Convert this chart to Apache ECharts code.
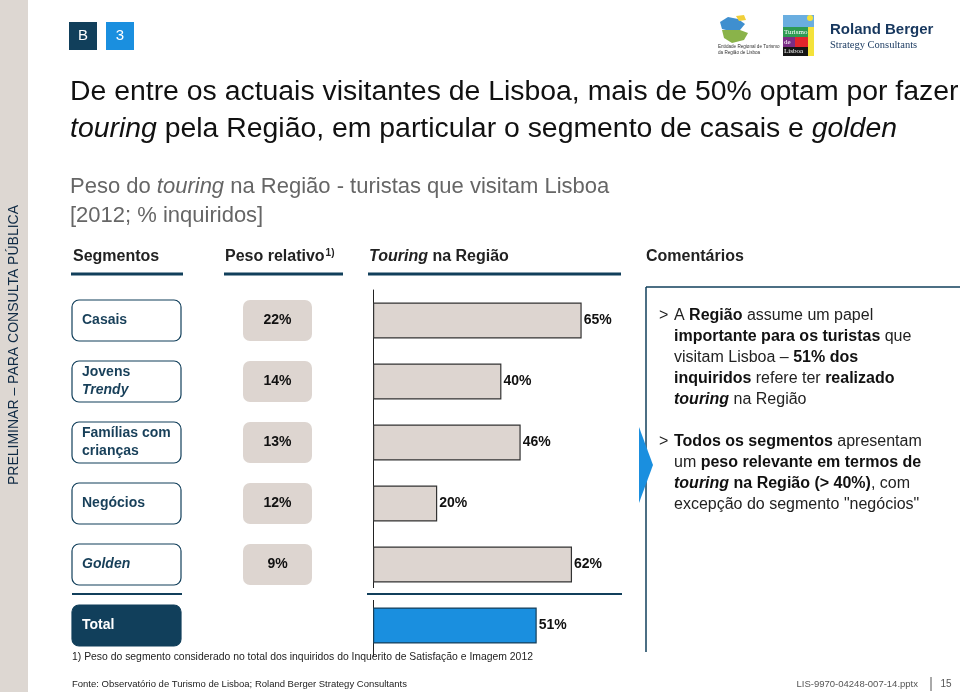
<!DOCTYPE html>
<html><head><meta charset="utf-8">
<script src="https://cdn.jsdelivr.net/npm/echarts@6/dist/echarts.min.js"></script>
<style>html,body{margin:0;padding:0;background:#fff}#c{width:960px;height:692px}</style>
</head><body><div id="c"></div>
<script>
// ---- data ----
const categories = ['Casais', 'Jovens Trendy', 'Famílias com crianças', 'Negócios', 'Golden', 'Total'];
const segmentLabels = ['{s|Casais}', '{s|Jovens}\n{si|Trendy}', '{s|Famílias com}\n{s|crianças}', '{s|Negócios}', '{si|Golden}', '{s|Total}'];
const pesoRelativo = [22, 14, 13, 12, 9, null];
const touringNaRegiao = [65, 40, 46, 20, 62, 51];

const NAVY = '#113f5b';
const BLUE = '#1a8fdf';
const BEIGE = '#ddd5d0';
const FF = '"Liberation Sans", Arial, sans-serif';

const chart = echarts.init(document.getElementById('c'), null, {renderer: 'canvas'});

const gridBase = {top: 290, height: 366};
const richSeg = (color) => ({
  s: {fontFamily: FF, fontSize: 14, fontWeight: 'bold', fill: color, color: color, lineHeight: 18},
  si: {fontFamily: FF, fontSize: 14, fontWeight: 'bold', fontStyle: 'italic', fill: color, color: color, lineHeight: 18}
});

const commentRich = {
  r: {fontFamily: FF, fontSize: 16, fill: '#222', color: '#222', lineHeight: 20.8},
  b: {fontFamily: FF, fontSize: 16, fontWeight: 'bold', fill: '#111', color: '#111', lineHeight: 20.8},
  bi: {fontFamily: FF, fontSize: 16, fontWeight: 'bold', fontStyle: 'italic', fill: '#111', color: '#111', lineHeight: 20.8}
};

function txt(x, y, text, opts) {
  return {type: 'text', x: x, y: y, silent: true, style: Object.assign({text: text, fontFamily: FF, fill: '#222', verticalAlign: 'middle', align: 'left'}, opts || {})};
}
function line(x1, y1, x2, y2, w, color, z) {
  return {type: 'line', silent: true, z: z || 10, shape: {x1: x1, y1: y1, x2: x2, y2: y2}, style: {stroke: color || NAVY, lineWidth: w || 1}};
}

const graphics = [
  // left strip
  {type: 'rect', silent: true, shape: {x: 0, y: 0, width: 28, height: 692}, style: {fill: '#ddd7d2'}},
  {type: 'text', silent: true, x: 14, y: 345, rotation: Math.PI / 2,
    style: {text: 'PRELIMINAR – PARA CONSULTA PÚBLICA', fontFamily: FF, fontSize: 14, fill: '#0f2a44', align: 'center', verticalAlign: 'middle'}},
  // B / 3 boxes
  {type: 'rect', silent: true, shape: {x: 69, y: 22, width: 28, height: 28}, style: {fill: NAVY}},
  {type: 'rect', silent: true, shape: {x: 106, y: 22, width: 28, height: 28}, style: {fill: BLUE}},
  txt(83, 36, 'B', {fill: '#fff', fontSize: 15, align: 'center'}),
  txt(120, 36, '3', {fill: '#fff', fontSize: 15, align: 'center'}),
  // title
  txt(70, 92, 'De entre os actuais visitantes de Lisboa, mais de 50% optam por fazer', {fontSize: 28.4, fill: '#111'}),
  txt(70, 129, '{i|touring} pela Região, em particular o segmento de casais e {i|golden}', {fontSize: 28.4, fill: '#111',
    rich: {i: {fontFamily: FF, fontSize: 28.4, fontStyle: 'italic', fill: '#111', color: '#111'}}}),
  // subtitle
  txt(70, 187, 'Peso do {i|touring} na Região - turistas que visitam Lisboa', {fontSize: 22, fill: '#666',
    rich: {i: {fontFamily: FF, fontSize: 22, fontStyle: 'italic', fill: '#666', color: '#666'}}}),
  txt(70, 216, '[2012; % inquiridos]', {fontSize: 22, fill: '#666'}),
  // headers
  txt(73, 257, 'Segmentos', {fontSize: 16, fontWeight: 'bold', fill: '#222'}),
  txt(225, 257, '{h|Peso relativo}{sup|1)}', {fontSize: 16, fontWeight: 'bold', fill: '#222',
    rich: {h: {fontFamily: FF, fontSize: 16, fontWeight: 'bold', fill: '#222', color: '#222'},
           sup: {fontFamily: FF, fontSize: 10, fontWeight: 'bold', fill: '#222', color: '#222', padding: [0, 0, 8, 1]}}}),
  txt(369, 257, '{i|Touring} na Região', {fontSize: 16, fontWeight: 'bold', fill: '#222',
    rich: {i: {fontFamily: FF, fontSize: 16, fontWeight: 'bold', fontStyle: 'italic', fill: '#222', color: '#222'}}}),
  txt(646, 257, 'Comentários', {fontSize: 16, fontWeight: 'bold', fill: '#222'}),
  line(71, 274, 183, 274, 3),
  line(224, 274, 343, 274, 3),
  line(368, 274, 621, 274, 3),
  // separator between Golden and Total
  {type: 'rect', silent: true, z: 100, shape: {x: 369, y: 588, width: 8, height: 12}, style: {fill: '#fff'}},
  line(72, 594, 182, 594, 2, NAVY, 101),
  line(367, 594, 622, 594, 2, NAVY, 101),
  // comments box
  line(646, 287, 960, 287, 1.5),
  line(646, 287, 646, 652, 1.5),
  {type: 'polygon', silent: true, z: 20, shape: {points: [[639, 427], [653, 465], [639, 503]]}, style: {fill: BLUE}},
  txt(659, 316, '>', {fontSize: 16, fill: '#222'}),
  {type: 'text', silent: true, x: 674, y: 305.6, style: {text: '{r|A }{b|Região}{r| assume um papel}\n{b|importante para os turistas}{r| que}\n{r|visitam Lisboa – }{b|51% dos}\n{b|inquiridos}{r| refere ter }{b|realizado}\n{bi|touring}{r| na Região}',
    fontFamily: FF, fontSize: 16, verticalAlign: 'top', align: 'left', rich: commentRich}},
  txt(659, 442, '>', {fontSize: 16, fill: '#222'}),
  {type: 'text', silent: true, x: 674, y: 431.6, style: {text: '{b|Todos os segmentos}{r| apresentam}\n{r|um }{b|peso relevante em termos de}\n{bi|touring}{b| na Região (> 40%)}{r|, com}\n{r|excepção do segmento "negócios"}',
    fontFamily: FF, fontSize: 16, verticalAlign: 'top', align: 'left', rich: commentRich}},
  // footnotes
  txt(72, 657, '1) Peso do segmento considerado no total dos inquiridos do Inquerito de Satisfação e Imagem 2012', {fontSize: 10.4, fill: '#222'}),
  txt(72, 684, 'Fonte: Observatório de Turismo de Lisboa; Roland Berger Strategy Consultants', {fontSize: 9.5, fill: '#222'}),
  txt(918, 684, 'LIS-9970-04248-007-14.pptx', {fontSize: 9.5, fill: '#555', align: 'right'}),
  line(931, 677, 931, 691, 1, '#555'),
  txt(946, 684, '15', {fontSize: 10, fill: '#555', align: 'center'}),
  // logos: Entidade Regional
  {type: 'polygon', silent: true, shape: {points: [[720, 22], [728, 17], [738, 19], [745, 24], [740, 30], [730, 31], [722, 29]]}, style: {fill: '#3f8fcf'}},
  {type: 'polygon', silent: true, shape: {points: [[722, 30], [740, 30], [748, 33], [744, 40], [732, 43], [724, 38]]}, style: {fill: '#8ab34a'}},
  {type: 'polygon', silent: true, shape: {points: [[736, 16], [744, 15], [746, 20], [739, 21]]}, style: {fill: '#f0cf3a'}},
  txt(718, 47, 'Entidade Regional de Turismo', {fontSize: 4.6, fill: '#333'}),
  txt(718, 52.5, 'da Região de Lisboa', {fontSize: 4.6, fill: '#333'}),
  // logos: Turismo de Lisboa
  {type: 'rect', silent: true, shape: {x: 783, y: 15, width: 31, height: 15}, style: {fill: '#6aaee0'}},
  {type: 'circle', silent: true, shape: {cx: 810, cy: 18, r: 3}, style: {fill: '#f4e23a'}},
  {type: 'rect', silent: true, shape: {x: 783, y: 27, width: 25, height: 10}, style: {fill: '#2e9b54'}},
  {type: 'rect', silent: true, shape: {x: 808, y: 27, width: 6, height: 29}, style: {fill: '#f4e23a'}},
  {type: 'rect', silent: true, shape: {x: 783, y: 37, width: 12, height: 10}, style: {fill: '#7b2d86'}},
  {type: 'rect', silent: true, shape: {x: 795, y: 37, width: 13, height: 10}, style: {fill: '#e3262b'}},
  {type: 'rect', silent: true, shape: {x: 783, y: 47, width: 25, height: 9}, style: {fill: '#151515'}},
  txt(784, 32, 'Turismo', {fontSize: 7, fill: '#fff', fontFamily: '"Liberation Serif", serif'}),
  txt(784, 42, 'de', {fontSize: 7, fill: '#fff', fontFamily: '"Liberation Serif", serif'}),
  txt(784, 51.5, 'Lisboa', {fontSize: 7, fill: '#fff', fontFamily: '"Liberation Serif", serif'}),
  // logos: Roland Berger
  txt(830, 30, 'Roland Berger', {fontSize: 15, fontWeight: 'bold', fill: '#17375e'}),
  txt(830, 45, 'Strategy Consultants', {fontSize: 10.5, fill: '#17375e', fontFamily: '"Liberation Serif", serif'})
];

const option = {
  animation: false,
  backgroundColor: '#fff',
  textStyle: {fontFamily: FF},
  grid: [
    Object.assign({left: 72, width: 109}, gridBase),
    Object.assign({left: 243, width: 69}, gridBase),
    Object.assign({left: 373, width: 321}, gridBase)
  ],
  xAxis: [0, 1, 2].map(i => ({type: 'value', gridIndex: i, min: 0, max: 100, show: false})),
  yAxis: [0, 1, 2].map(i => ({
    type: 'category', gridIndex: i, data: categories, inverse: true,
    show: i === 2,
    axisLine: {show: i === 2, lineStyle: {color: '#222', width: 1}},
    axisTick: {show: false}, axisLabel: {show: false}, splitLine: {show: false}
  })),
  series: [
    {
      type: 'custom', xAxisIndex: 0, yAxisIndex: 0, silent: true,
      data: categories.map(c => [0, c]),
      encode: {x: 0, y: 1},
      renderItem: (params, api) => {
        const i = params.dataIndex;
        const cs = params.coordSys;
        const cy = api.coord([0, i])[1];
        const isTotal = i === categories.length - 1;
        const h = 41;
        const col = isTotal ? '#fff' : '#173f59';
        return {type: 'group', children: [
          {type: 'rect', shape: {x: cs.x, y: cy - h / 2, width: cs.width, height: h, r: 7},
            style: {fill: isTotal ? NAVY : '#fff', stroke: NAVY, lineWidth: 1.2}},
          {type: 'text', x: cs.x + 10, y: cy,
            style: {text: segmentLabels[i], fontFamily: FF, fontSize: 14, fontWeight: 'bold', fill: col,
              verticalAlign: 'middle', align: 'left', rich: richSeg(col)}}
        ]};
      }
    },
    {
      type: 'custom', xAxisIndex: 1, yAxisIndex: 1, silent: true,
      data: pesoRelativo.map((v, i) => [v == null ? '-' : v, categories[i]]),
      encode: {x: 0, y: 1},
      renderItem: (params, api) => {
        const v = pesoRelativo[params.dataIndex];
        if (v == null) return null;
        const cs = params.coordSys;
        const cy = api.coord([0, params.dataIndex])[1];
        const h = 41;
        return {type: 'group', children: [
          {type: 'rect', shape: {x: cs.x, y: cy - h / 2, width: cs.width, height: h, r: 7}, style: {fill: BEIGE}},
          {type: 'text', x: cs.x + cs.width / 2, y: cy,
            style: {text: v + '%', fontFamily: FF, fontSize: 14, fontWeight: 'bold', fill: '#111', align: 'center', verticalAlign: 'middle'}}
        ]};
      }
    },
    {
      type: 'bar', xAxisIndex: 2, yAxisIndex: 2, silent: true, barWidth: 36,
      data: touringNaRegiao.map((v, i) => i === categories.length - 1
        ? {value: v, itemStyle: {color: BLUE, borderColor: '#163f5a', borderWidth: 1.2}}
        : v),
      itemStyle: {color: BEIGE, borderColor: '#333', borderWidth: 1.2},
      label: {show: true, position: 'right', distance: 2, formatter: '{c}%', fontFamily: FF, fontSize: 14, fontWeight: 'bold', color: '#111'}
    }
  ],
  graphic: {elements: graphics}
};
chart.setOption(option);
</script>
</body></html>
